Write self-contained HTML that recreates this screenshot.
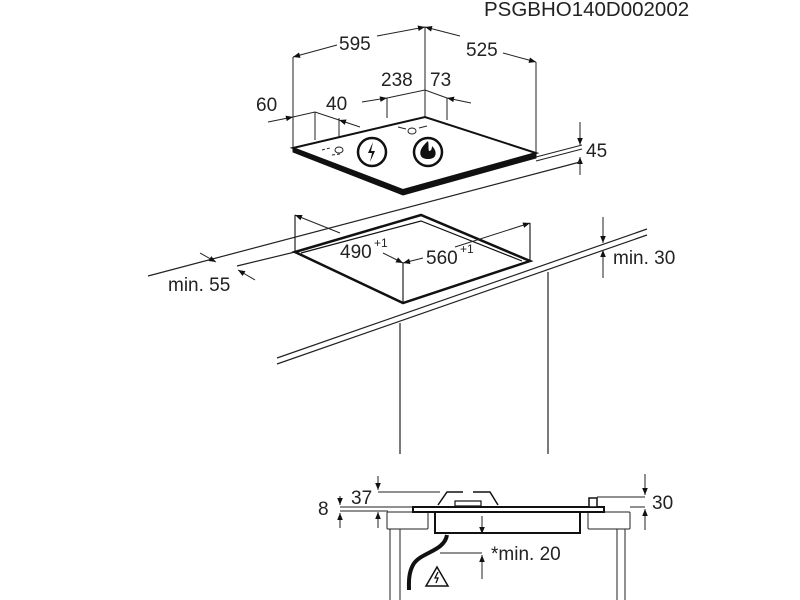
<!DOCTYPE html>
<html><head><meta charset="utf-8"><style>
html,body{margin:0;padding:0;background:#fff;}
svg{display:block;}
text{font-family:"Liberation Sans",Arial,sans-serif;fill:#222;}
</style></head><body>
<svg width="800" height="600" viewBox="0 0 800 600" xmlns="http://www.w3.org/2000/svg">
<defs>
<marker id="a" viewBox="0 0 10 10" refX="10" refY="5" markerWidth="9" markerHeight="7" orient="auto-start-reverse" markerUnits="userSpaceOnUse"><path d="M0,1 L10,5 L0,9 z" fill="#111"/></marker>
</defs>
<text x="484" y="16" font-size="20.5">PSGBHO140D002002</text>

<g stroke="#222" stroke-width="1" fill="none">
<line x1="293" y1="148" x2="293" y2="57"/>
<line x1="425" y1="117" x2="425" y2="27"/>
<line x1="536" y1="153" x2="536" y2="62"/>
<path d="M337,45 L293,57" marker-end="url(#a)"/>
<path d="M377,36 L425,27" marker-end="url(#a)"/>
<path d="M460,36 L425,27" marker-end="url(#a)"/>
<path d="M503,53 L536,62" marker-end="url(#a)"/>
<line x1="387" y1="118" x2="387" y2="98"/>
<line x1="447" y1="120" x2="447" y2="98"/>
<path d="M387,98 L425,90 L447,98"/>
<path d="M362,102 L387,98" marker-end="url(#a)"/>
<path d="M471,103 L447,98" marker-end="url(#a)"/>
<line x1="315" y1="112" x2="315" y2="140"/>
<line x1="339" y1="118" x2="339" y2="140"/>
<path d="M293,117 L315,112 L339,120"/>
<path d="M268,122 L293,117" marker-end="url(#a)"/>
<path d="M360,127 L339,120" marker-end="url(#a)"/>
<path d="M580,122 L580,145" marker-end="url(#a)"/>
<path d="M580,175 L580,157" marker-end="url(#a)"/>
<path d="M536,157 L582,145"/>
<path d="M536,161 L582,149"/>
</g>
<path d="M293,148 L425,117 L536,153 L403,190 Z" fill="#fff" stroke="#111" stroke-width="2"/>
<path d="M293,148 L293,152 L403,195 L536,158 L536,153 L403,190 Z" fill="#111" stroke="#111" stroke-width="1"/>
<g stroke="#222" stroke-width="1" fill="none">
<path d="M322,150 l8,-2 M332,155 l8,-1" stroke-dasharray="3,2"/>
<ellipse cx="339" cy="150" rx="4" ry="3"/>
<ellipse cx="412" cy="131" rx="4" ry="3"/>
<path d="M398,127 l8,2 M419,128 l8,-2" />
</g>
<circle cx="372" cy="152" r="14" fill="#fff" stroke="#111" stroke-width="2.5"/>
<path d="M373,142 l-5,11 l4,0 l-2,9 l5,-11 l-4,0 z" fill="#111"/>
<circle cx="428" cy="152" r="14" fill="#fff" stroke="#111" stroke-width="2.5"/>
<path d="M428,141 c-7,6 -9,11 -7,15 c2,4 12,4 14,0 c2,-4 -1,-8 -3,-10 c0,3 -1,5 -3,5 c-1,-3 0,-6 -1,-10 z" fill="#111"/>
<g font-size="19">
<text x="339" y="50">595</text>
<text x="466" y="56">525</text>
<text x="381" y="86">238</text>
<text x="430" y="86">73</text>
<text x="256" y="111">60</text>
<text x="326" y="110">40</text>
<text x="586" y="157">45</text>
</g>

<g stroke="#222" stroke-width="1.2" fill="none">
<line x1="148" y1="276" x2="580" y2="162"/>
<line x1="237" y1="266" x2="295" y2="252"/>
<line x1="277" y1="358" x2="647" y2="229"/>
<line x1="277" y1="364" x2="647" y2="235"/>
<line x1="400" y1="323" x2="400" y2="454"/>
<line x1="548" y1="272" x2="548" y2="454"/>
<line x1="295" y1="215" x2="295" y2="252"/>
<line x1="530" y1="223" x2="530" y2="261"/>
<line x1="403" y1="263" x2="403" y2="303"/>
</g>
<path d="M295,252 L421,215 L530,261 L403,303 Z" fill="none" stroke="#111" stroke-width="2.5"/>
<path d="M301,253 L421,221 L522,261" fill="none" stroke="#111" stroke-width="1.2"/>
<g stroke="#222" stroke-width="1" fill="none">
<path d="M340,233 L295,215" marker-end="url(#a)"/>
<path d="M455,247 L530,223" marker-end="url(#a)"/>
<path d="M383,253 L403,263" marker-end="url(#a)"/>
<path d="M423,258 L403,263" marker-end="url(#a)"/>
<path d="M200,253 L216,262" marker-end="url(#a)"/>
<path d="M255,280 L238,270" marker-end="url(#a)"/>
<path d="M603,217 L603,243" marker-end="url(#a)"/>
<path d="M603,278 L603,250" marker-end="url(#a)"/>
</g>
<g font-size="19">
<text x="340" y="258">490</text><text x="374" y="247" font-size="12">+1</text>
<text x="426" y="264">560</text><text x="460" y="253" font-size="12">+1</text>
<text x="168" y="291">min. 55</text>
<text x="613" y="264">min. 30</text>
</g>

<g stroke="#222" stroke-width="1" fill="none">
<rect x="387" y="512" width="41" height="17" rx="1"/>
<rect x="588" y="512" width="42" height="17" rx="1"/>
<line x1="390" y1="529" x2="390" y2="600"/><line x1="400" y1="529" x2="400" y2="600"/>
<line x1="617" y1="529" x2="617" y2="600"/><line x1="625" y1="529" x2="625" y2="600"/>
<path d="M378,492 L440,492"/>
<path d="M340,507 L413,507"/>
<path d="M340,511 L388,511"/>
<path d="M597,497 L645,497"/>
<path d="M630,507 L645,507"/>
<path d="M378,476 L378,490" marker-end="url(#a)"/>
<path d="M378,528 L378,512" marker-end="url(#a)"/>
<path d="M340,496 L340,505" marker-end="url(#a)"/>
<path d="M340,528 L340,513" marker-end="url(#a)"/>
<path d="M645,474 L645,495" marker-end="url(#a)"/>
<path d="M645,530 L645,509" marker-end="url(#a)"/>
<path d="M482,516 L482,534" marker-end="url(#a)"/>
<path d="M482,579 L482,555" marker-end="url(#a)"/>
<path d="M440,553 L482,553"/>
</g>
<rect x="413" y="507" width="191" height="5" fill="#fff" stroke="#111" stroke-width="2"/>
<path d="M435,512 L435,533 L580,533 L580,512" fill="none" stroke="#111" stroke-width="2"/>
<path d="M438,505 L447,492 L463,492 M473,492 L490,492 L498,505" fill="none" stroke="#111" stroke-width="1.5"/>
<rect x="455" y="501" width="26" height="5" fill="#fff" stroke="#111" stroke-width="1.2"/>
<rect x="589" y="498" width="8" height="9" fill="#fff" stroke="#111" stroke-width="1.5"/>
<path d="M447,535 C444,552 420,552 413,565 C408,574 409,585 409,590" fill="none" stroke="#111" stroke-width="4"/>
<path d="M437,567 L448,586 L426,586 Z" fill="#fff" stroke="#111" stroke-width="1.5"/>
<path d="M438,572 l-3,6 l3,0 l-2,5" fill="none" stroke="#111" stroke-width="1.3"/>
<g font-size="19">
<text x="351" y="504">37</text>
<text x="318" y="515">8</text>
<text x="652" y="509">30</text>
<text x="491" y="560">*min. 20</text>
</g>
</svg>
</body></html>
